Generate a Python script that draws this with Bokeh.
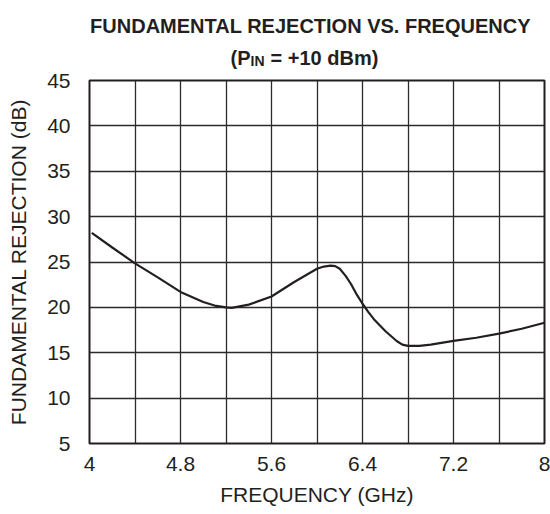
from bokeh.plotting import figure
from bokeh.models import Range1d, FixedTicker
from bokeh.layouts import column
from bokeh.core.properties import value
from bokeh.embed import file_html
from bokeh.resources import INLINE

# ---- data ----
freq_ghz = [4.02, 4.2, 4.4, 4.6, 4.8, 5.0, 5.1, 5.2, 5.25, 5.4, 5.6, 5.8, 6.0,
            6.06, 6.12, 6.16, 6.2, 6.25, 6.3, 6.35, 6.4, 6.45, 6.5, 6.6, 6.7,
            6.75, 6.8, 6.9, 7.0, 7.2, 7.4, 7.6, 7.8, 8.0]
rejection_db = [28.2, 26.6, 24.85, 23.3, 21.7, 20.6, 20.2, 20.0, 19.95, 20.3, 21.2, 22.8, 24.25,
                24.5, 24.6, 24.55, 24.25, 23.5, 22.55, 21.4, 20.4, 19.5, 18.7, 17.4, 16.3,
                15.9, 15.75, 15.75, 15.9, 16.3, 16.65, 17.1, 17.65, 18.3]

x_tick_values = [4, 4.8, 5.6, 6.4, 7.2, 8]
x_tick_labels = ["4", "4.8", "5.6", "6.4", "7.2", "8"]
x_grid_values = [4.0, 4.4, 4.8, 5.2, 5.6, 6.0, 6.4, 6.8, 7.2, 7.6, 8.0]
y_tick_values = [5, 10, 15, 20, 25, 30, 35, 40, 45]

title_line1 = "FUNDAMENTAL REJECTION VS. FREQUENCY"
title_line2_a = "(P"
title_line2_sub = "IN"
title_line2_b = "= +10 dBm)"
x_label = "FREQUENCY (GHz)"
y_label = "FUNDAMENTAL REJECTION (dB)"

TEXT = "#231f20"
FONT = "Liberation Sans"

W = 550
TH = 70          # title strip height
H = 514 - TH     # main figure height
FL, FR = 89, 544  # plot frame left/right edges in page pixels (title strip shares them)

# ---- title strip (pixel coordinates, y downward) ----
t = figure(width=W, height=TH, output_backend="svg", toolbar_location=None,
           x_range=Range1d(FL, FR), y_range=Range1d(TH, 0),
           x_axis_location=None, y_axis_location=None,
           min_border_left=FL, min_border_right=W - FR,
           min_border_top=0, min_border_bottom=0)
t.grid.visible = False
t.outline_line_color = None
t.background_fill_color = "white"
t.border_fill_color = "white"

def ttext(x, y, s, size, align="left"):
    t.text(x=[x], y=[y], text=[s], text_font=value(FONT), text_font_style="bold",
           text_font_size=size, text_color=TEXT, text_align=align,
           text_baseline="alphabetic")

ttext(310, 25, title_line1, "20px", "center")
ttext(230, 57, title_line2_a, "20px")
ttext(250, 60, title_line2_sub, "14px")
ttext(270, 57, title_line2_b, "20px")

# ---- main chart ----
p = figure(width=W, height=H, output_backend="svg", toolbar_location=None,
           x_range=Range1d(4, 8), y_range=Range1d(5, 45),
           min_border_left=FL, min_border_right=W - FR, min_border_top=10, min_border_bottom=71)
p.background_fill_color = "white"
p.border_fill_color = "white"

p.line(freq_ghz, rejection_db, line_color=TEXT, line_width=2.2)

p.outline_line_color = TEXT
p.outline_line_width = 2
p.outline_line_alpha = 1

p.xaxis.ticker = FixedTicker(ticks=x_tick_values)
p.xaxis.major_label_overrides = {v: s for v, s in zip(x_tick_values, x_tick_labels)}
p.yaxis.ticker = FixedTicker(ticks=y_tick_values)
p.xgrid.ticker = FixedTicker(ticks=x_grid_values)
p.ygrid.ticker = FixedTicker(ticks=y_tick_values)

for g in (p.xgrid, p.ygrid):
    g.grid_line_color = "#2b2b2b"
    g.grid_line_width = 1.3
    g.grid_line_alpha = 1

for ax in (p.xaxis, p.yaxis):
    ax.axis_line_color = None
    ax.major_tick_line_color = None
    ax.minor_tick_line_color = None
    ax.major_tick_out = 0
    ax.major_tick_in = 0
    ax.major_label_text_font = FONT
    ax.major_label_text_font_size = "21px"
    ax.major_label_text_color = TEXT
    ax.axis_label_text_font = FONT
    ax.axis_label_text_font_size = "21px"
    ax.axis_label_text_font_style = "normal"
    ax.axis_label_text_color = TEXT

p.xaxis.axis_label = x_label
p.yaxis.axis_label = y_label
p.xaxis.major_label_standoff = 13
p.yaxis.major_label_standoff = 19
p.xaxis.axis_label_standoff = 9
p.yaxis.axis_label_standoff = 14

layout = column(t, p, spacing=0)
open("out.html", "w").write(file_html(layout, INLINE))
